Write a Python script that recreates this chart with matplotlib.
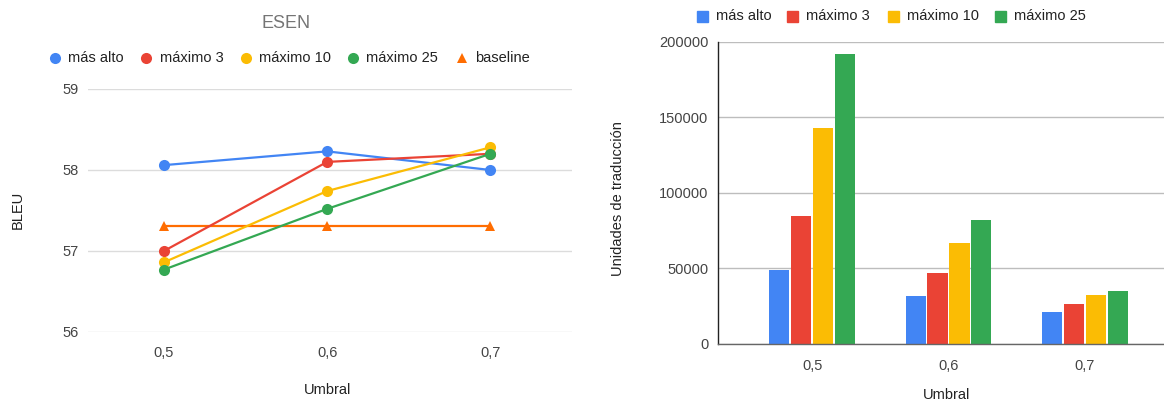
import matplotlib
matplotlib.use("Agg")
import matplotlib.pyplot as plt
from matplotlib.lines import Line2D
from matplotlib.patches import Rectangle
import numpy as np

plt.rcParams['font.family'] = ['Liberation Sans', 'DejaVu Sans']

# Data
thresholds = ["0,5", "0,6", "0,7"]
series_names = ["más alto", "máximo 3", "máximo 10", "máximo 25"]
colors = ["#4285F4", "#EA4335", "#FBBC04", "#34A853"]

bleu_mas_alto = [58.06, 58.23, 58.00]
bleu_max3 = [57.00, 58.10, 58.20]
bleu_max10 = [56.86, 57.74, 58.28]
bleu_max25 = [56.77, 57.52, 58.20]
bleu_baseline = [57.31, 57.31, 57.31]
baseline_color = "#FF6D01"

units_mas_alto = [49000, 31300, 21100]
units_max3 = [84300, 46500, 26200]
units_max10 = [142800, 67000, 32000]
units_max25 = [191600, 81700, 35000]

bleu_series = [bleu_mas_alto, bleu_max3, bleu_max10, bleu_max25]
unit_series = [units_mas_alto, units_max3, units_max10, units_max25]

W, H = 1164, 401
fig = plt.figure(figsize=(W / 100, H / 100), dpi=100)

FS = 10.5
tick_color = "#444444"
grid_color = "#dcdcdc"
label_color = "#222222"

def fx(px):
    return px / W

def fy(py):
    return 1 - py / H

# ---------------- Left: BLEU line chart ----------------
ax1 = fig.add_axes([fx(88), fy(332), fx(572 - 88), (332 - 89) / H])
x = np.arange(len(thresholds))
for vals, c in zip(bleu_series, colors):
    ax1.plot(x, vals, color=c, lw=1.6, marker="o", ms=8, markeredgewidth=0, zorder=3)
ax1.plot(x, bleu_baseline, color=baseline_color, lw=1.6, marker="^", ms=7,
         markeredgewidth=0, zorder=2)
ax1.set_xlim(-0.465, 2.5)
ax1.set_ylim(56, 59)
ax1.set_yticks([56, 57, 58, 59])
ax1.set_yticklabels(["56", "57", "58", "59"])
ax1.set_xticks(x)
ax1.set_xticklabels(thresholds)
for s in ax1.spines.values():
    s.set_visible(False)
ax1.grid(axis="y", color=grid_color, lw=1)
ax1.set_axisbelow(True)
ax1.tick_params(length=0, labelsize=FS, colors=tick_color)
ax1.tick_params(axis="y", pad=7)
ax1.tick_params(axis="x", pad=10)
fig.text(fx(328), fy(390), "Umbral", ha="center", va="center", fontsize=FS, color=label_color)
fig.text(fx(18), fy(210), "BLEU", ha="center", va="center", rotation=90,
         fontsize=FS, color=label_color)
fig.text(fx(286), fy(23), "ESEN", ha="center", va="center", fontsize=13, color="#757575")

# Legend of the line chart
leg_y = fy(58)
leg_x = [54.5, 146, 245.5, 353]
for px, name, c in zip(leg_x, series_names, colors):
    fig.add_artist(Line2D([fx(px)], [leg_y], marker="o", ms=8, color=c,
                          markeredgewidth=0, transform=fig.transFigure))
    fig.text(fx(px + 13.5), leg_y, name, ha="left", va="center", fontsize=FS, color=label_color)
fig.add_artist(Line2D([fx(462)], [leg_y], marker="^", ms=7, color=baseline_color,
                      markeredgewidth=0, transform=fig.transFigure))
fig.text(fx(475.5), leg_y, "baseline", ha="left", va="center", fontsize=FS, color=label_color)

# ---------------- Right: grouped bar chart ----------------
ax2 = fig.add_axes([fx(718), fy(343.7), fx(1164 - 718), (343.7 - 41.7) / H])
n = len(unit_series)
step = 0.161
bw = 0.147
for i, (vals, c) in enumerate(zip(unit_series, colors)):
    ax2.bar(x + (i - (n - 1) / 2) * step, vals, width=bw, color=c, zorder=3)
ax2.set_xlim(-0.69, 2.58)
ax2.set_ylim(0, 200000)
ax2.set_yticks([0, 50000, 100000, 150000, 200000])
ax2.set_yticklabels(["0", "50000", "100000", "150000", "200000"])
ax2.set_xticks(x)
ax2.set_xticklabels(thresholds)
for k in ["top", "right"]:
    ax2.spines[k].set_visible(False)
ax2.spines["left"].set_color("#222222")
ax2.spines["left"].set_linewidth(1.0)
ax2.spines["bottom"].set_color("#666666")
ax2.spines["bottom"].set_linewidth(1.0)
ax2.spines["left"].set_zorder(4)
ax2.spines["bottom"].set_zorder(4)
ax2.grid(axis="y", color="#bdbdbd", lw=1)
ax2.set_axisbelow(True)
ax2.tick_params(length=0, labelsize=FS, colors=tick_color)
ax2.tick_params(axis="y", pad=7)
ax2.tick_params(axis="x", pad=11)
fig.text(fx(947), fy(395), "Umbral", ha="center", va="center", fontsize=FS, color=label_color)
fig.text(fx(618), fy(199), "Unidades de traducción", ha="center", va="center", rotation=90,
         fontsize=FS, color=label_color)

# Legend of the bar chart
leg2_y = fy(16)
leg2_x = [702, 792.5, 893, 1000]
for px, name, c in zip(leg2_x, series_names, colors):
    fig.add_artist(Rectangle((fx(px - 5.5), leg2_y - 5.5 / H), fx(11), 11 / H, color=c,
                             transform=fig.transFigure))
    fig.text(fx(px + 14), leg2_y, name, ha="left", va="center", fontsize=FS, color=label_color)

fig.savefig("out.png", dpi=100)
